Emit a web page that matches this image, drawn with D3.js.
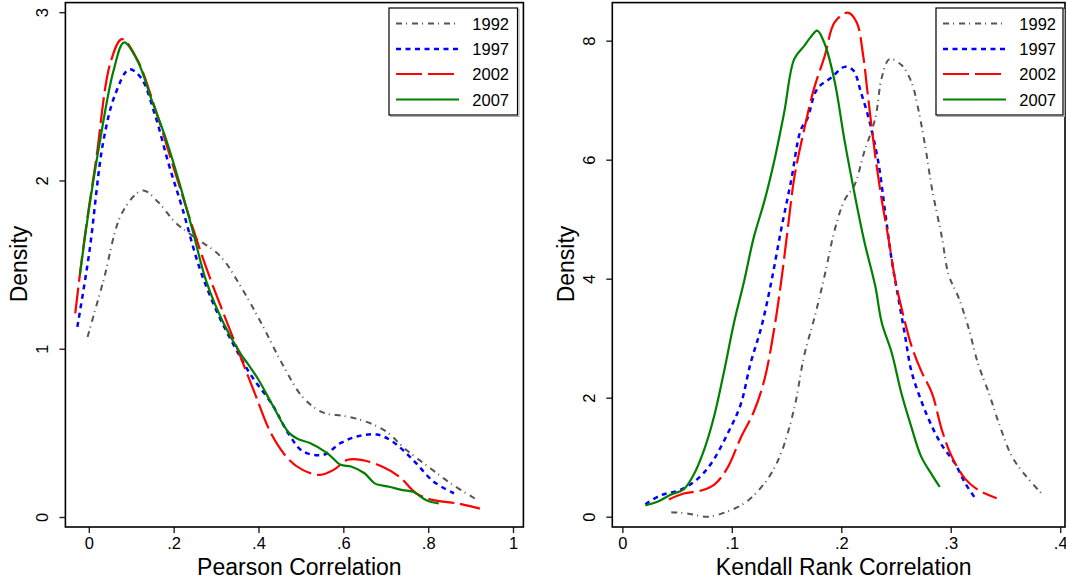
<!DOCTYPE html>
<html>
<head>
<meta charset="utf-8">
<script src="https://cdn.jsdelivr.net/npm/d3@7"></script>
<style>
  body { margin: 0; background: #fff; }
  text { font-family: "Liberation Sans", Arial, Helvetica, sans-serif; fill: #000; }
</style>
</head>
<body>
<svg id="chart" width="1066" height="582"></svg>
<script>
// ---- data ----
const years = ['1992', '1997', '2002', '2007']

// Pearson correlation densities [x, density]
const pearson1992 = [[-0.003,1.07],[0.034,1.40],[0.079,1.81],[0.127,1.94],[0.164,1.87],[0.204,1.75],[0.245,1.67],
  [0.31,1.55],[0.358,1.37],[0.407,1.15],[0.456,0.91],[0.505,0.71],[0.553,0.62],[0.602,0.60],[0.65,0.57],
  [0.70,0.51],[0.748,0.40],[0.805,0.29],[0.853,0.20],[0.91,0.11]]
const pearson1997 = [[-0.027,1.13],[0.001,1.57],[0.034,2.23],[0.062,2.51],[0.095,2.66],[0.123,2.61],[0.156,2.39],
  [0.188,2.10],[0.221,1.83],[0.261,1.48],[0.302,1.22],[0.342,1.02],[0.383,0.84],[0.432,0.67],[0.472,0.49],
  [0.505,0.39],[0.553,0.37],[0.594,0.44],[0.634,0.48],[0.679,0.49],[0.715,0.45],[0.764,0.34],[0.813,0.21],[0.861,0.14]]
const pearson2002 = [[-0.032,1.21],[-0.01,1.66],[0.017,2.12],[0.051,2.70],[0.078,2.84],[0.114,2.72],[0.156,2.43],
  [0.197,2.10],[0.236,1.79],[0.277,1.48],[0.319,1.20],[0.358,0.95],[0.392,0.73],[0.431,0.49],[0.472,0.34],
  [0.504,0.28],[0.545,0.25],[0.577,0.28],[0.61,0.34],[0.642,0.34],[0.691,0.30],[0.732,0.24],[0.772,0.14],
  [0.813,0.10],[0.87,0.08],[0.922,0.05]]
const pearson2007 = [[-0.021,1.44],[0.001,1.84],[0.026,2.23],[0.058,2.65],[0.083,2.82],[0.115,2.71],[0.148,2.48],
  [0.18,2.26],[0.213,1.99],[0.245,1.70],[0.277,1.40],[0.318,1.15],[0.358,0.97],[0.375,0.91],[0.399,0.82],
  [0.432,0.67],[0.472,0.50],[0.496,0.46],[0.521,0.44],[0.562,0.38],[0.594,0.31],[0.618,0.30],[0.65,0.26],
  [0.674,0.20],[0.708,0.18],[0.74,0.16],[0.764,0.15],[0.796,0.10],[0.825,0.08]]

// Kendall rank correlation densities [x, density]
const kendall1992 = [[0.0447,0.075],[0.059,0.056],[0.078,0],[0.096,0.087],[0.114,0.26],[0.133,0.64],[0.145,1.07],
  [0.157,1.82],[0.166,2.70],[0.176,3.38],[0.185,4.07],[0.194,4.82],[0.203,5.32],[0.212,5.57],[0.221,6.13],
  [0.231,6.69],[0.237,7.38],[0.244,7.69],[0.255,7.59],[0.264,7.31],[0.27,6.88],[0.277,6.19],[0.283,5.50],
  [0.292,4.69],[0.298,4.07],[0.307,3.69],[0.316,3.19],[0.325,2.57],[0.335,2.07],[0.344,1.57],[0.356,1.01],
  [0.368,0.70],[0.383,0.39]]
const kendall1997 = [[0.021,0.21],[0.035,0.36],[0.053,0.45],[0.069,0.64],[0.081,0.89],[0.096,1.39],[0.108,1.88],
  [0.117,2.57],[0.127,3.19],[0.136,3.94],[0.145,4.82],[0.154,5.63],[0.163,6.50],[0.169,6.69],[0.178,7.19],
  [0.191,7.38],[0.203,7.56],[0.211,7.50],[0.218,7.13],[0.226,6.63],[0.234,5.94],[0.24,5.13],[0.246,4.32],
  [0.252,3.69],[0.258,3.07],[0.264,2.45],[0.273,1.95],[0.283,1.51],[0.292,1.20],[0.304,0.89],[0.313,0.57],[0.322,0.32]]
const kendall2002 = [[0.0425,0.29],[0.056,0.39],[0.072,0.44],[0.084,0.54],[0.096,0.82],[0.108,1.32],[0.12,1.76],
  [0.13,2.32],[0.139,3.19],[0.145,3.94],[0.151,4.82],[0.157,5.69],[0.166,6.50],[0.175,7.19],[0.185,7.75],
  [0.194,8.31],[0.206,8.47],[0.214,8.31],[0.22,7.75],[0.224,7.13],[0.231,6.07],[0.237,5.32],[0.243,4.69],
  [0.249,4.01],[0.255,3.51],[0.264,2.88],[0.273,2.45],[0.283,2.07],[0.292,1.45],[0.301,1.01],[0.313,0.64],
  [0.325,0.45],[0.342,0.31]]
const kendall2007 = [[0.021,0.19],[0.033,0.26],[0.044,0.37],[0.056,0.46],[0.065,0.70],[0.075,1.14],[0.084,1.70],
  [0.093,2.45],[0.102,3.26],[0.111,3.94],[0.12,4.69],[0.13,5.32],[0.139,6.00],[0.148,6.81],[0.157,7.69],
  [0.166,7.91],[0.172,8.06],[0.178,8.17],[0.185,7.94],[0.194,7.31],[0.203,6.32],[0.212,5.44],[0.221,4.63],
  [0.231,3.88],[0.237,3.26],[0.246,2.76],[0.255,2.07],[0.264,1.51],[0.273,1.01],[0.283,0.70],[0.29,0.50]]

const pearsonXTicks = [0, 0.2, 0.4, 0.6, 0.8, 1]
const pearsonYTicks = [0, 1, 2, 3]
const kendallXTicks = [0, 0.1, 0.2, 0.3, 0.4]
const kendallYTicks = [0, 2, 4, 6, 8]

// ---- styling ----
const lineStyle = {
  '1992': { color: '#555555', dash: '6,4,1,5', width: 2 },
  '1997': { color: '#0000ff', dash: '5,4.5', width: 2.5 },
  '2002': { color: '#ff0000', dash: '26,6', width: 2.2 },
  '2007': { color: '#008000', dash: null, width: 2.2 }
}

const panels = [
  {
    title: 'Pearson Correlation',
    series: [pearson1992, pearson1997, pearson2002, pearson2007],
    xTicks: pearsonXTicks, yTicks: pearsonYTicks,
    xDomain: [-0.0552, 1.0245], yDomain: [-0.0594, 3.057],
    frame: { left: 65.4, right: 523.4, top: 2.6, bottom: 527 },
    legend: { x: 389, y: 8, w: 128.5, h: 107 }
  },
  {
    title: 'Kendall Rank Correlation',
    series: [kendall1992, kendall1997, kendall2002, kendall2007],
    xTicks: kendallXTicks, yTicks: kendallYTicks,
    xDomain: [-0.0092, 0.4044], yDomain: [-0.173, 8.64],
    frame: { left: 612.3, right: 1065, top: 2.6, bottom: 527 },
    legend: { x: 936, y: 8, w: 127, h: 107 }
  }
]

const svg = d3.select('#chart')
const fmt = d => d3.format('~g')(d).replace(/^0\./, '.')

const drawPanel = (p) => {
  const f = p.frame
  const x = d3.scaleLinear().domain(p.xDomain).range([f.left, f.right])
  const y = d3.scaleLinear().domain(p.yDomain).range([f.bottom, f.top])
  const g = svg.append('g')

  // x axis
  const xAxis = g.append('g')
    .attr('transform', `translate(0, ${f.bottom})`)
    .call(d3.axisBottom(x).tickValues(p.xTicks).tickSize(6).tickPadding(4).tickFormat(fmt))
  xAxis.select('.domain').remove()
  xAxis.selectAll('line').attr('stroke', '#222').attr('stroke-width', 1.4)
  xAxis.selectAll('text').attr('font-size', 16.5).attr('fill', '#000')

  // y axis, labels rotated like Stata
  const yAxis = g.append('g')
    .attr('transform', `translate(${f.left}, 0)`)
    .call(d3.axisLeft(y).tickValues(p.yTicks).tickSize(6).tickFormat(fmt))
  yAxis.select('.domain').remove()
  yAxis.selectAll('line').attr('stroke', '#222').attr('stroke-width', 1.4)
  yAxis.selectAll('text')
    .attr('x', null).attr('dy', null)
    .attr('text-anchor', 'middle')
    .attr('font-size', 16.5)
    .attr('fill', '#000')
    .attr('transform', 'translate(-17.5, 0) rotate(-90)')

  // curves
  const line = d3.line()
    .x(d => x(d[0]))
    .y(d => y(d[1]))
    .curve(d3.curveCatmullRom.alpha(0.5))

  p.series.forEach((s, i) => {
    const st = lineStyle[years[i]]
    g.append('path')
      .datum(s)
      .attr('fill', 'none')
      .attr('stroke', st.color)
      .attr('stroke-width', st.width)
      .attr('stroke-dasharray', st.dash)
      .attr('d', line)
  })

  // plot frame
  g.append('rect')
    .attr('x', f.left).attr('y', f.top)
    .attr('width', f.right - f.left).attr('height', f.bottom - f.top)
    .attr('fill', 'none').attr('stroke', '#000').attr('stroke-width', 1.6)

  // axis titles
  g.append('text')
    .attr('x', (f.left + f.right) / 2 + 5)
    .attr('y', 575)
    .attr('text-anchor', 'middle')
    .attr('font-size', 23)
    .text(p.title)
  g.append('text')
    .attr('transform', `translate(${f.left - 38}, 264) rotate(-90)`)
    .attr('text-anchor', 'middle')
    .attr('font-size', 23)
    .text('Density')

  // legend
  const L = p.legend
  g.append('rect')
    .attr('x', L.x + 1.5).attr('y', L.y + 1.5)
    .attr('width', L.w).attr('height', L.h)
    .attr('fill', 'none').attr('stroke', '#aaa').attr('stroke-width', 1)
  g.append('rect')
    .attr('x', L.x).attr('y', L.y)
    .attr('width', L.w).attr('height', L.h)
    .attr('fill', '#fff').attr('stroke', '#000').attr('stroke-width', 1.2)
  const rowY = [23.5, 49, 74, 99.5]
  years.forEach((yr, i) => {
    const st = lineStyle[yr]
    g.append('line')
      .attr('x1', L.x + 7).attr('x2', L.x + 70)
      .attr('y1', rowY[i]).attr('y2', rowY[i])
      .attr('stroke', st.color)
      .attr('stroke-width', st.width)
      .attr('stroke-dasharray', st.dash)
    g.append('text')
      .attr('x', L.x + 120).attr('y', rowY[i] + 6)
      .attr('text-anchor', 'end')
      .attr('font-size', 16.5)
      .text(yr)
  })
}

panels.forEach(drawPanel)
</script>
</body>
</html>
